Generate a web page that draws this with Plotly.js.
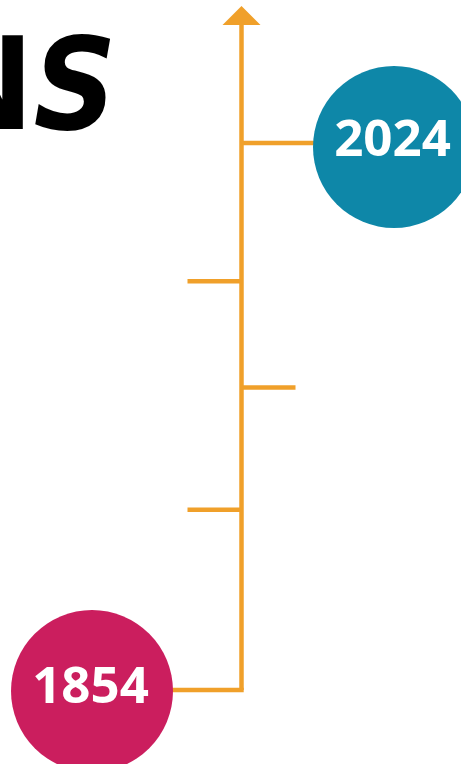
<!DOCTYPE html>
<html><head><meta charset="utf-8">
<script src="https://cdn.plot.ly/plotly-3.0.1.min.js"></script>
<style>html,body{margin:0;padding:0;background:#fff;overflow:hidden}#chart{width:461px;height:764px}</style>
</head><body><div id="chart"></div>
<script>
// ---- data ----
const eventYears = [1854, 1910, 1948, 1981, 2024];
const eventSides = [-1, -1, 1, -1, 1];
const milestoneYears = [1854, 2024];
const milestoneLabels = ['1854', '2024'];
const milestoneColors = ['#CB1E5E', '#0E87A8'];
const titleText = 'N<i>S</i>';

// ---- style / layout constants ----
const W = 461, H = 764;
const SPINE_X = 241.5;
const TICK_LEN = 54;
const CIRCLE_X = {1854: 92, 2024: 394};
const CIRCLE_DY_PX = {1854: 1, 2024: 4};   // circle centre offset below its tick (px)
const ORANGE = '#F0A02A';
const Y_RANGE = [1831.0, 2068.44];
const pxPerYear = H / (Y_RANGE[1] - Y_RANGE[0]);
function pxToYear(py) { return Y_RANGE[1] - py / pxPerYear; }

const traces = [];
const spineTop = pxToYear(25);
traces.push({
  type: 'scatter', mode: 'lines', hoverinfo: 'skip',
  x: [SPINE_X, SPINE_X], y: [Math.min(...eventYears), spineTop],
  line: {color: ORANGE, width: 4.5}
});
eventYears.forEach((yr, i) => {
  const mi = milestoneYears.indexOf(yr);
  const xEnd = mi >= 0 ? CIRCLE_X[yr] : SPINE_X + eventSides[i] * TICK_LEN;
  traces.push({
    type: 'scatter', mode: 'lines', hoverinfo: 'skip',
    x: [SPINE_X + (mi >= 0 && eventSides[i] < 0 ? 2.2 : 0), xEnd], y: [yr, yr],
    line: {color: ORANGE, width: 4.5}
  });
});
traces.push({
  type: 'scatter', mode: 'markers', hoverinfo: 'skip',
  x: milestoneYears.map(y => CIRCLE_X[y]),
  y: milestoneYears.map(y => y - CIRCLE_DY_PX[y] / pxPerYear),
  marker: {size: 162, color: milestoneColors, line: {width: 0}, opacity: 1}
});
traces.push({
  type: 'scatter', mode: 'text', hoverinfo: 'skip',
  x: milestoneYears.map(y => CIRCLE_X[y] - 1.5),
  y: milestoneYears.map(y => y - 0.6 / pxPerYear),
  text: milestoneLabels, textposition: 'middle center',
  textfont: {family: 'Open Sans', size: 51, color: '#ffffff', weight: 700}
});

const layout = {
  width: W, height: H,
  margin: {l: 0, r: 0, t: 0, b: 0, pad: 0},
  paper_bgcolor: '#ffffff', plot_bgcolor: '#ffffff',
  showlegend: false,
  xaxis: {range: [0, W], visible: false, fixedrange: true},
  yaxis: {range: Y_RANGE, visible: false, fixedrange: true},
  shapes: [{
    type: 'path', xref: 'x', yref: 'y', layer: 'above',
    path: `M ${SPINE_X - 19} ${pxToYear(25)} L ${SPINE_X} ${pxToYear(6)} L ${SPINE_X + 19} ${pxToYear(25)} Z`,
    fillcolor: ORANGE, line: {width: 0}
  }],
  annotations: [{
    xref: 'paper', yref: 'paper', x: 118 / W, y: 1 - 84 / H,
    xanchor: 'right', yanchor: 'middle', showarrow: false,
    text: titleText,
    font: {family: 'DejaVu Sans Condensed', size: 128, color: '#000000', weight: 700}
  }]
};

Plotly.newPlot('chart', traces, layout, {staticPlot: true, displayModeBar: false});
</script>
</body></html>
